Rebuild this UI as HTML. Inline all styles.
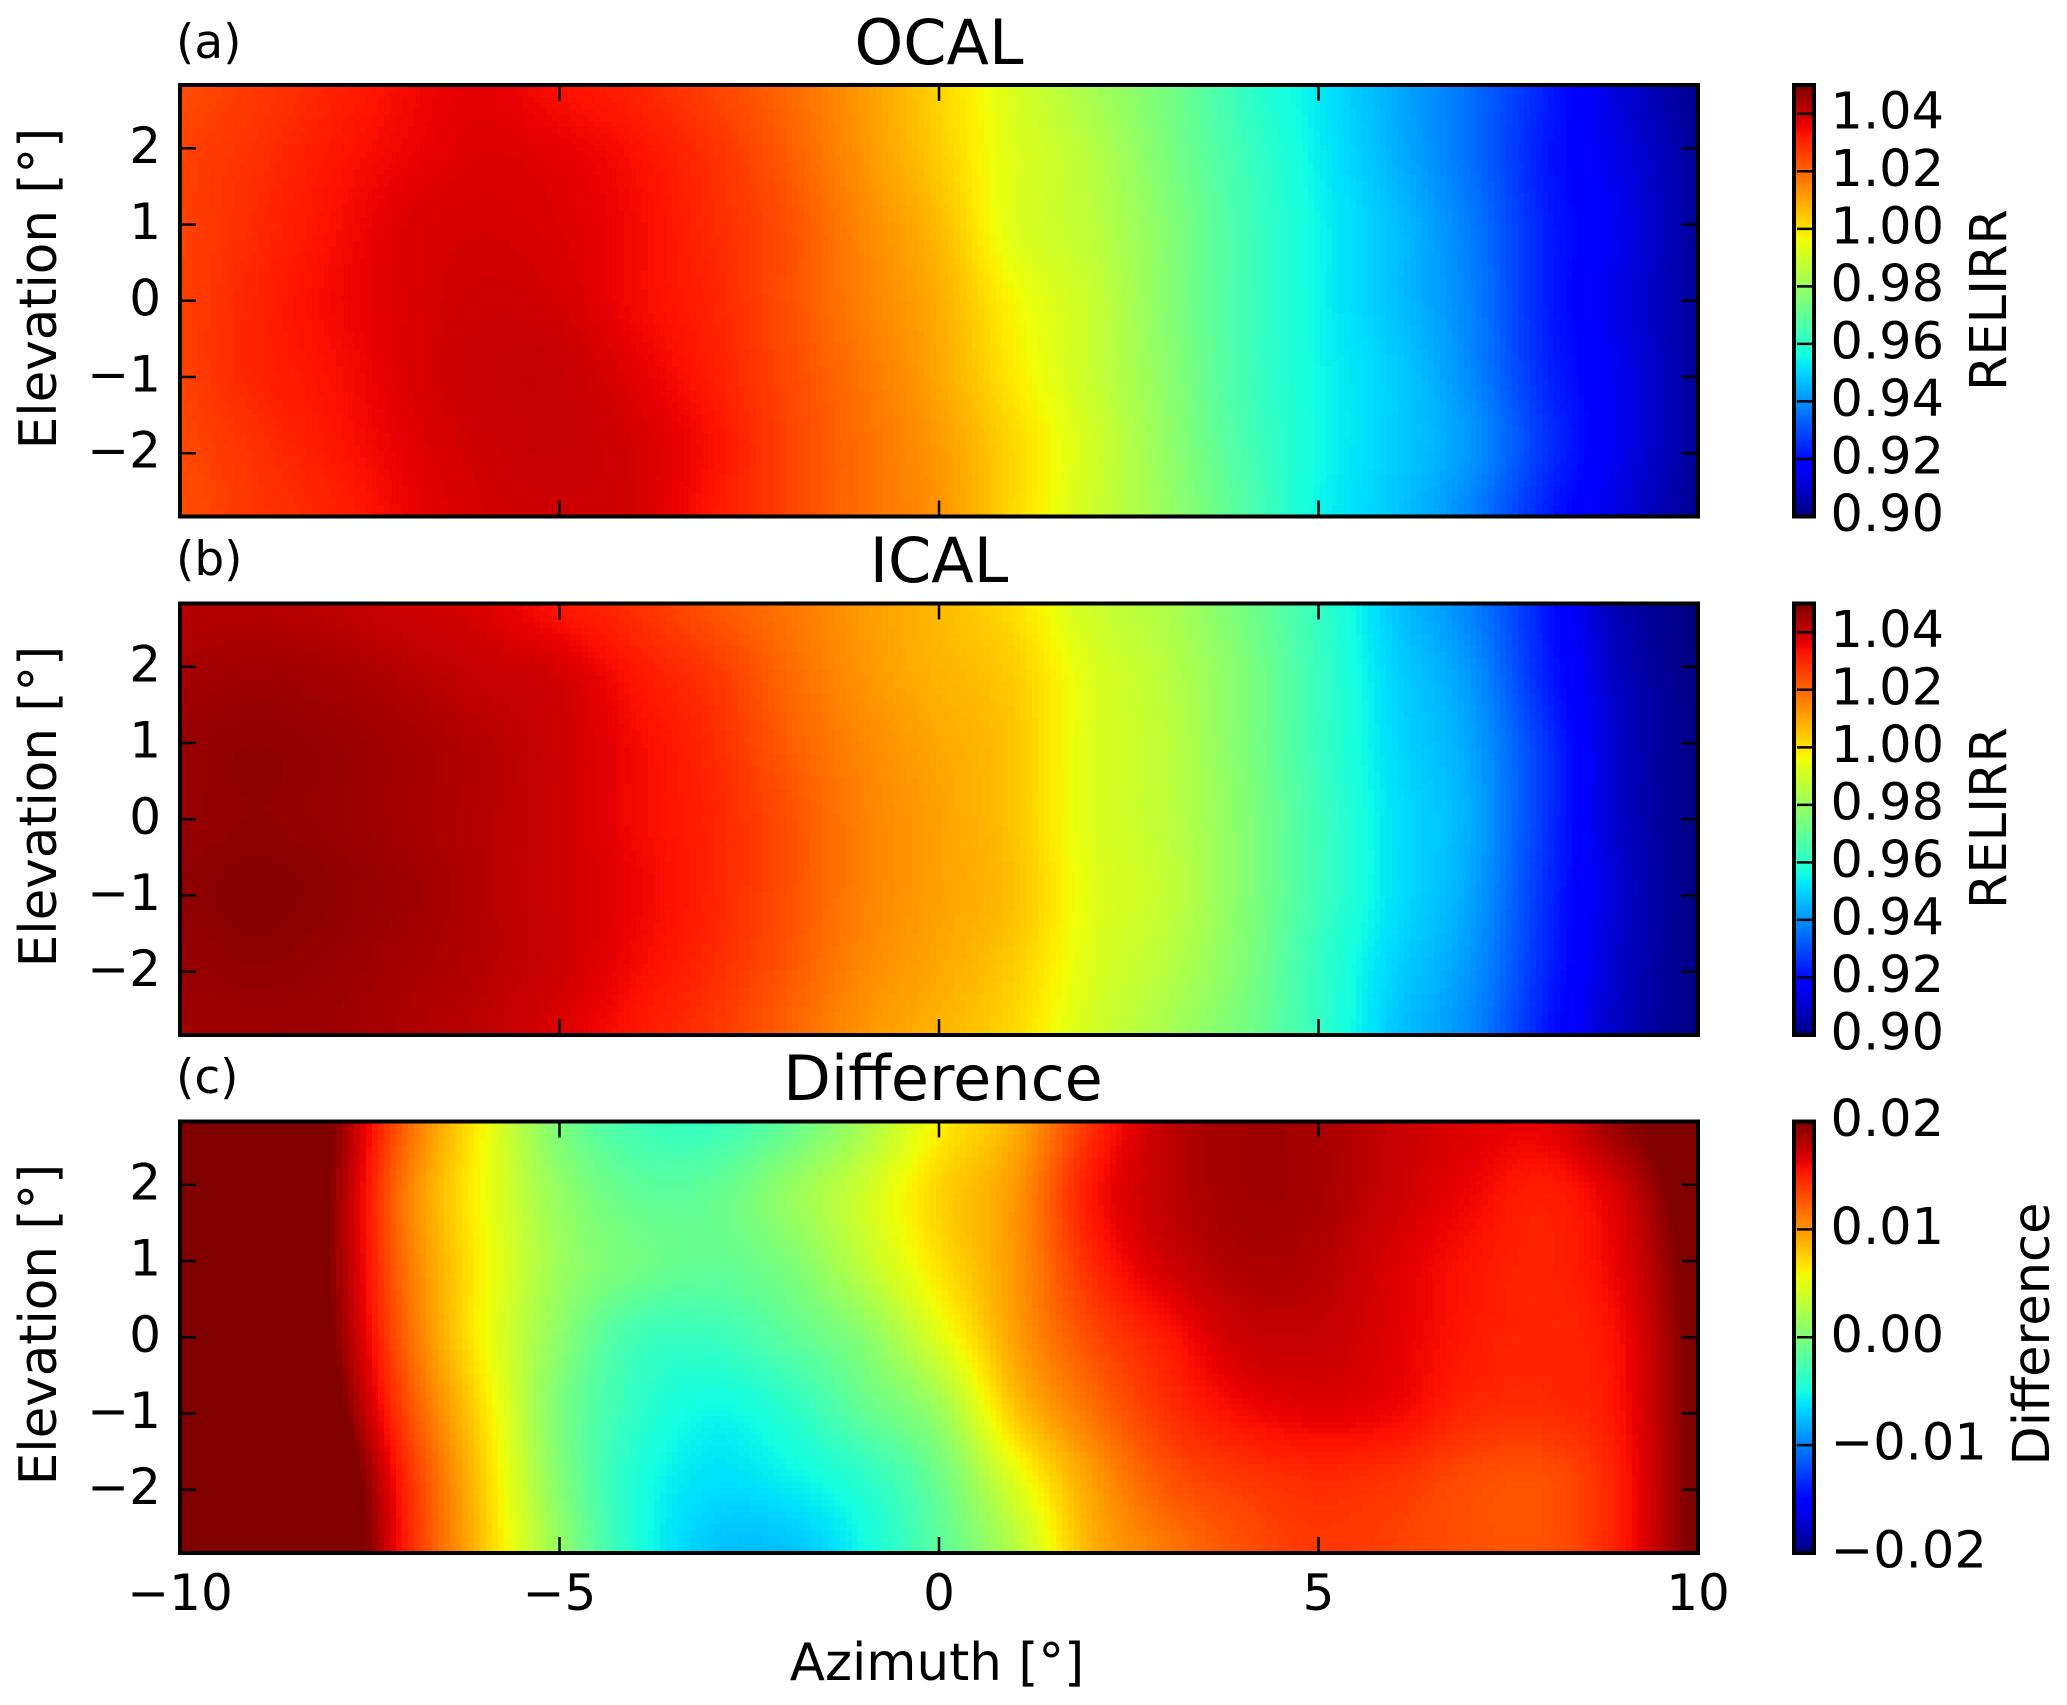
<!DOCTYPE html>
<html lang="en">
<head>
<meta charset="utf-8">
<title>OCAL, ICAL and Difference heatmaps</title>
<style>
html,body{margin:0;padding:0;background:#fff;}
svg{display:block;}
text{font-family:"DejaVu Sans","Liberation Sans",sans-serif;fill:#000;}
</style>
</head>
<body>
<svg id="figure" xmlns="http://www.w3.org/2000/svg" width="2067" height="1705" viewBox="0 0 2067 1705">
  <rect x="0" y="0" width="2067" height="1705" fill="#fff"/>
  <g id="panels"></g>

  <text x="176" y="58" font-size="47">(a)</text>
  <text x="939" y="64" font-size="62" text-anchor="middle">OCAL</text>
  <text x="176" y="575" font-size="47">(b)</text>
  <text x="939" y="582" font-size="62" text-anchor="middle">ICAL</text>
  <text x="176" y="1093" font-size="47">(c)</text>
  <text x="943" y="1100" font-size="62" text-anchor="middle">Difference</text>

  <text transform="translate(56 288.5) rotate(-90)" font-size="51.5" text-anchor="middle">Elevation [°]</text>
  <text transform="translate(56 806.5) rotate(-90)" font-size="51.5" text-anchor="middle">Elevation [°]</text>
  <text transform="translate(56 1324.5) rotate(-90)" font-size="51.5" text-anchor="middle">Elevation [°]</text>
  <text x="937" y="1680" font-size="51.5" text-anchor="middle">Azimuth [°]</text>

  <text transform="translate(2006 300) rotate(-90)" font-size="51" text-anchor="middle">RELIRR</text>
  <text transform="translate(2006 818) rotate(-90)" font-size="51" text-anchor="middle">RELIRR</text>
  <text transform="translate(2049 1334) rotate(-90)" font-size="51" text-anchor="middle">Difference</text>
</svg>
<script>
// Grid coordinates of the values
const azimuthValues = [-10,-9,-8,-7,-6,-5,-4,-3,-2,-1,0,1,2,3,4,5,6,7,8,9,10];
const elevationValues = [2.83,1.887,0.943,0,-0.943,-1.887,-2.83];

// Panel (a) OCAL: one row per elevation, top to bottom
const ocalValues = [
  [1.0245,1.0275,1.031,1.035,1.037,1.034,1.031,1.026,1.020,1.012,1.003,0.992,0.983,0.974,0.962,0.953,0.944,0.935,0.923,0.911,0.902],
  [1.026,1.029,1.033,1.036,1.038,1.037,1.034,1.029,1.022,1.013,1.004,0.993,0.986,0.975,0.964,0.954,0.945,0.935,0.922,0.913,0.903],
  [1.026,1.030,1.034,1.038,1.039,1.038,1.035,1.030,1.024,1.015,1.007,0.993,0.987,0.977,0.965,0.955,0.947,0.937,0.923,0.914,0.903],
  [1.026,1.031,1.035,1.038,1.040,1.039,1.035,1.031,1.024,1.016,1.009,0.997,0.989,0.977,0.965,0.955,0.947,0.938,0.923,0.913,0.903],
  [1.026,1.031,1.034,1.038,1.041,1.041,1.037,1.032,1.025,1.018,1.010,0.999,0.989,0.978,0.965,0.9555,0.949,0.939,0.924,0.914,0.903],
  [1.025,1.029,1.033,1.037,1.040,1.041,1.039,1.034,1.026,1.019,1.012,1.002,0.991,0.979,0.966,0.956,0.949,0.941,0.926,0.914,0.903],
  [1.024,1.028,1.031,1.036,1.039,1.040,1.039,1.033,1.026,1.019,1.013,1.002,0.990,0.980,0.968,0.955,0.948,0.938,0.923,0.912,0.902]
];

// Panel (b) ICAL
const icalValues = [
  [1.043,1.043,1.042,1.040,1.038,1.033,1.029,1.023,1.018,1.012,1.007,1.001,0.990,0.984,0.974,0.962,0.948,0.938,0.922,0.906,0.900],
  [1.045,1.046,1.045,1.043,1.041,1.039,1.033,1.028,1.020,1.013,1.008,1.004,0.993,0.986,0.976,0.963,0.950,0.941,0.923,0.908,0.900],
  [1.047,1.048,1.047,1.045,1.043,1.040,1.035,1.030,1.022,1.015,1.010,1.005,0.993,0.987,0.976,0.963,0.951,0.943,0.926,0.909,0.900],
  [1.047,1.048,1.047,1.045,1.043,1.040,1.035,1.031,1.024,1.016,1.011,1.005,0.993,0.987,0.977,0.964,0.952,0.944,0.926,0.909,0.900],
  [1.048,1.049,1.048,1.046,1.043,1.040,1.036,1.031,1.024,1.016,1.011,1.006,0.994,0.988,0.977,0.964,0.952,0.943,0.925,0.910,0.900],
  [1.047,1.048,1.047,1.045,1.043,1.040,1.035,1.030,1.023,1.015,1.010,1.004,0.993,0.986,0.976,0.962,0.950,0.941,0.924,0.909,0.900],
  [1.046,1.046,1.046,1.044,1.042,1.038,1.033,1.028,1.021,1.013,1.008,1.002,0.991,0.983,0.974,0.962,0.948,0.939,0.922,0.908,0.900]
];

// Panel (c) Difference (values above 0.02 saturate the colormap)
const differenceValues = [
  [0.032,0.026,0.020,0.012,0.0058,0,-0.0028,-0.0032,-0.0012,0.002,0.0062,0.009,0.0144,0.0178,0.0188,0.0186,0.0176,0.0168,0.0166,0.0194,0.022],
  [0.032,0.026,0.0196,0.011,0.0056,0.0012,-0.0012,-0.0012,0.0012,0.004,0.0074,0.01,0.0154,0.0178,0.0188,0.0186,0.0174,0.0162,0.0152,0.0172,0.022],
  [0.032,0.026,0.0196,0.0114,0.006,0.0016,-0.0004,-0.0012,0,0.0032,0.0068,0.01,0.0146,0.0172,0.0184,0.0182,0.0168,0.0156,0.015,0.0166,0.0212],
  [0.032,0.026,0.02,0.012,0.0058,0.0008,-0.0028,-0.0032,-0.0016,0.0006,0.0048,0.0096,0.0132,0.0154,0.0174,0.0176,0.0166,0.0154,0.0148,0.016,0.0208],
  [0.032,0.028,0.0212,0.0132,0.0068,0,-0.0036,-0.0052,-0.004,-0.0012,0.0016,0.008,0.0116,0.0144,0.016,0.0166,0.0162,0.0148,0.0146,0.0158,0.0208],
  [0.032,0.03,0.0232,0.0146,0.0076,0.0004,-0.0044,-0.0062,-0.0056,-0.004,-0.0008,0.0048,0.0096,0.0128,0.014,0.0146,0.0142,0.0132,0.013,0.0154,0.0208],
  [0.032,0.03,0.024,0.015,0.008,0.0012,-0.0044,-0.0072,-0.0074,-0.0052,-0.0016,0.0028,0.0088,0.0112,0.013,0.014,0.0136,0.013,0.013,0.0154,0.0208]
];

// Axis ticks and colorbar ticks
const xTicks = [-10,-5,0,5,10];
const xTickLabels = ["\u221210","\u22125","0","5","10"];
const yTicks = [2,1,0,-1,-2];
const yTickLabels = ["2","1","0","\u22121","\u22122"];
const relirrTicks = [1.04,1.02,1.00,0.98,0.96,0.94,0.92,0.90];
const relirrTickLabels = ["1.04","1.02","1.00","0.98","0.96","0.94","0.92","0.90"];
const relirrRange = [0.90,1.05];
const diffTicks = [0.02,0.01,0,-0.01,-0.02];
const diffTickLabels = ["0.02","0.01","0.00","\u22120.01","\u22120.02"];
const diffRange = [-0.02,0.02];

const NS = "http://www.w3.org/2000/svg";
const AX_L = 180, AX_R = 1698, AX_H = 431.5, CB_L = 1794, CB_R = 1814, CELL = 6;
const AZ_RANGE = [-10,10], EL_RANGE = [-2.83,2.83];

function node(tag, parent){
  const el = document.createElementNS(NS, tag);
  parent.appendChild(el);
  return el;
}
function xScale(az){ return AX_L + (az - AZ_RANGE[0]) / (AZ_RANGE[1] - AZ_RANGE[0]) * (AX_R - AX_L); }
function yScale(elev, top){ return top + (EL_RANGE[1] - elev) / (EL_RANGE[1] - EL_RANGE[0]) * AX_H; }

function ramp(t, pts){
  for(let i = 1; i < pts.length; i++){
    if(t <= pts[i][0]){
      const a = pts[i-1], b = pts[i];
      return a[1] + (t - a[0]) / (b[0] - a[0]) * (b[1] - a[1]);
    }
  }
  return pts[pts.length-1][1];
}
const JET_R = [[0,0],[0.35,0],[0.66,1],[0.89,1],[1,0.5]];
const JET_G = [[0,0],[0.125,0],[0.375,1],[0.64,1],[0.91,0],[1,0]];
const JET_B = [[0,0.5],[0.11,1],[0.34,1],[0.65,0],[1,0]];
function jet(t){
  t = Math.max(0, Math.min(1, t));
  t = Math.round(t * 255) / 255;
  const c = p => Math.round(ramp(t, p) * 255);
  return "rgb(" + c(JET_R) + "," + c(JET_G) + "," + c(JET_B) + ")";
}

function catmull(a, b, c, d, u){
  return b + 0.5 * u * (c - a + u * (2*a - 5*b + 4*c - d + u * (3*(b - c) + d - a)));
}
function sampleGrid(grid, fx, fy){
  const nr = grid.length, nc = grid[0].length;
  const ix = Math.min(nc - 2, Math.floor(fx)), iy = Math.min(nr - 2, Math.floor(fy));
  const ux = fx - ix, uy = fy - iy;
  const rowAt = r => {
    const row = grid[Math.max(0, Math.min(nr - 1, r))];
    const at = k => {
      if(k < 0) return 2 * row[0] - row[1];
      if(k > nc - 1) return 2 * row[nc-1] - row[nc-2];
      return row[k];
    };
    return catmull(at(ix-1), at(ix), at(ix+1), at(ix+2), ux);
  };
  return catmull(rowAt(iy-1), rowAt(iy), rowAt(iy+1), rowAt(iy+2), uy);
}
function gridIndex(list, v){
  // fractional index of v in a uniformly spaced, monotonic list
  return (v - list[0]) / (list[list.length-1] - list[0]) * (list.length - 1);
}

function drawHeatmap(parent, top, grid, range){
  const g = node("g", parent);
  
  
  g.setAttribute("shape-rendering", "crispEdges");
  const frag = document.createDocumentFragment();
  const ptop = Math.round(top);
  for(let py = ptop; py < top + AX_H; py += CELL){
    const elev = EL_RANGE[1] - (py + CELL/2 - top) / AX_H * (EL_RANGE[1] - EL_RANGE[0]);
    const fy = gridIndex(elevationValues, Math.max(EL_RANGE[0], Math.min(EL_RANGE[1], elev)));
    for(let px = AX_L; px < AX_R; px += CELL){
      const az = AZ_RANGE[0] + (px + CELL/2 - AX_L) / (AX_R - AX_L) * (AZ_RANGE[1] - AZ_RANGE[0]);
      const fx = gridIndex(azimuthValues, Math.min(AZ_RANGE[1], az));
      const v = sampleGrid(grid, fx, fy);
      const r = document.createElementNS(NS, "rect");
      r.setAttribute("x", px);
      r.setAttribute("y", py);
      r.setAttribute("width", Math.min(CELL, AX_R - px));
      r.setAttribute("height", Math.min(CELL, Math.ceil(top + AX_H - py)));
      r.setAttribute("fill", jet((v - range[0]) / (range[1] - range[0])));
      
      
      frag.appendChild(r);
    }
  }
  g.appendChild(frag);
}

function drawColorbar(parent, top, range, ticks, labels){
  const g = node("g", parent);
  
  
  const y = v => top + AX_H - (v - range[0]) / (range[1] - range[0]) * AX_H;
  const steps = 256;
  for(let i = 0; i < steps; i++){
    const r = node("rect", g);
    r.setAttribute("x", CB_L);
    r.setAttribute("width", CB_R - CB_L);
    r.setAttribute("y", top + AX_H - (i + 1) / steps * AX_H);
    r.setAttribute("height", AX_H / steps + 0.6);
    r.setAttribute("fill", jet(i / (steps - 1)));
    
    
  }
  ticks.forEach((v, i) => {
    const ty = y(v);
    if(Math.abs(v - range[0]) > 1e-9 && Math.abs(v - range[1]) > 1e-9){
      const t = node("line", g);
      t.setAttribute("x1", CB_R - 17);
      t.setAttribute("x2", CB_R);
      t.setAttribute("y1", ty);
      t.setAttribute("y2", ty);
      t.setAttribute("stroke", "#000");
      t.setAttribute("stroke-width", "2.5");
      
      
    }
    const lab = node("text", g);
    lab.setAttribute("x", 1830.5);
    lab.setAttribute("y", ty + 14.5);
    lab.setAttribute("font-size", "51");
    lab.textContent = labels[i];
    
    
  });
  const box = node("rect", g);
  box.setAttribute("x", CB_L);
  box.setAttribute("y", top);
  box.setAttribute("width", CB_R - CB_L);
  box.setAttribute("height", AX_H);
  box.setAttribute("fill", "none");
  box.setAttribute("stroke", "#000");
  box.setAttribute("stroke-width", "4");
  
  
}

function drawAxes(parent, top, showXLabels){
  const g = node("g", parent);
  
  
  const bottom = top + AX_H, TL = 16;
  xTicks.forEach((v, i) => {
    const x = xScale(v);
    [[top, top + TL], [bottom, bottom - TL]].forEach(pair => {
      const t = node("line", g);
      t.setAttribute("x1", x);
      t.setAttribute("x2", x);
      t.setAttribute("y1", pair[0]);
      t.setAttribute("y2", pair[1]);
      t.setAttribute("stroke", "#000");
      t.setAttribute("stroke-width", "2.5");
      
      
    });
    if(showXLabels){
      const lab = node("text", g);
      lab.setAttribute("x", x);
      lab.setAttribute("y", 1610);
      lab.setAttribute("font-size", "50");
      lab.setAttribute("text-anchor", "middle");
      lab.textContent = xTickLabels[i];
      
      
    }
  });
  yTicks.forEach((v, i) => {
    const y = yScale(v, top);
    [[AX_L, AX_L + TL], [AX_R, AX_R - TL]].forEach(pair => {
      const t = node("line", g);
      t.setAttribute("x1", pair[0]);
      t.setAttribute("x2", pair[1]);
      t.setAttribute("y1", y);
      t.setAttribute("y2", y);
      t.setAttribute("stroke", "#000");
      t.setAttribute("stroke-width", "2.5");
      
      
    });
    const lab = node("text", g);
    lab.setAttribute("x", 161);
    lab.setAttribute("y", y + 14.5);
    lab.setAttribute("font-size", "50");
    lab.setAttribute("text-anchor", "end");
    lab.textContent = yTickLabels[i];
    
    
  });
  const box = node("rect", g);
  box.setAttribute("x", AX_L);
  box.setAttribute("y", top);
  box.setAttribute("width", AX_R - AX_L);
  box.setAttribute("height", AX_H);
  box.setAttribute("fill", "none");
  box.setAttribute("stroke", "#000");
  box.setAttribute("stroke-width", "4");
  
  
}

const root = document.getElementById("panels");
drawHeatmap(root, 85, ocalValues, relirrRange);
drawAxes(root, 85, false);
drawColorbar(root, 85, relirrRange, relirrTicks, relirrTickLabels);
drawHeatmap(root, 603.5, icalValues, relirrRange);
drawAxes(root, 603.5, false);
drawColorbar(root, 603.5, relirrRange, relirrTicks, relirrTickLabels);
drawHeatmap(root, 1121.5, differenceValues, diffRange);
drawAxes(root, 1121.5, true);
drawColorbar(root, 1121.5, diffRange, diffTicks, diffTickLabels);
</script>
</body>
</html>
